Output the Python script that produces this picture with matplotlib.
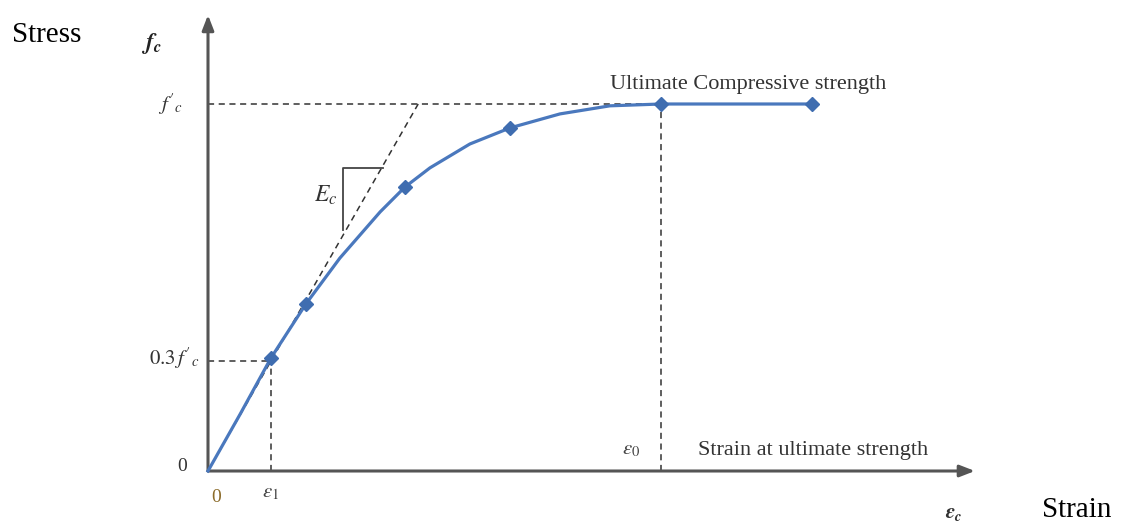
import matplotlib
matplotlib.use("Agg")
import matplotlib.pyplot as plt

plt.rcParams["font.family"] = ["Liberation Serif", "DejaVu Serif"]
plt.rcParams["mathtext.fontset"] = "stix"

# strain / stress (strain in eps0 units, stress in f'c units)
curve_strain = [0.0, 0.071, 0.139, 0.216, 0.291, 0.380, 0.435, 0.490, 0.578, 0.667,
                0.777, 0.887, 1.0, 1.333]
curve_stress = [0.0, 0.155, 0.308, 0.455, 0.580, 0.706, 0.774, 0.826, 0.891, 0.935,
                0.973, 0.995, 1.0, 1.0]
marker_idx = [2, 3, 6, 9, 12, 13]

eps1 = 0.139
eps0 = 1.0
tangent_strain = [0.0, 0.464]
tangent_stress = [0.0, 1.0]
# slope triangle for Ec
tri_x = [0.386, 0.298, 0.298]
tri_y = [0.826, 0.826, 0.657]

fig = plt.figure(figsize=(11.28, 5.22), dpi=100)
ax = fig.add_axes([0, 0, 1, 1])
ax.set_xlim(-208 / 453, 920 / 453)
ax.set_ylim(-51 / 367, 471 / 367)
ax.axis("off")

dash = dict(color="#333333", lw=1.1, ls=(0, (4, 3)))
ax.plot([0, curve_strain[-1]], [1.0, 1.0], **dash)
ax.plot([0, eps1], [0.3, 0.3], **dash)
ax.plot([eps1, eps1], [0, 0.3], **dash)
ax.plot([eps0, eps0], [0, 1.0], **dash)
ax.plot(tangent_strain, tangent_stress, **dash)
ax.plot(tri_x, tri_y, color="#444444", lw=1.3)

ax.plot(curve_strain, curve_stress, color="#4a78bd", lw=2.3, solid_joinstyle="round",
        marker="D", markevery=marker_idx, markersize=7.5, markerfacecolor="#3f6db0",
        markeredgecolor="#3f6db0", zorder=5)

# axes with arrows
arr = dict(arrowstyle="-|>,head_length=0.9,head_width=0.35", color="#555555", lw=2.2,
           shrinkA=0, shrinkB=0)
ax.annotate("", xy=(1.693, 0), xytext=(0, 0), arrowprops=arr)
ax.annotate("", xy=(0, 1.2425), xytext=(0, 0), arrowprops=arr)

# labels
ax.text(-0.124, 1.165, r"$\mathbfit{f_c}$", fontsize=17, ha="center", va="center", color="#222222")
ax.text(-0.083, 1.0, r"$f'_c$", fontsize=15, ha="center", va="center", color="#333333")
ax.text(-0.02, 0.308, r"$0.3\,f'_c$", fontsize=15, ha="right", va="center", color="#333333")
ax.text(-0.057, 0.013, "0", fontsize=14, ha="center", va="center", color="#333333")
ax.text(0.018, -0.072, "0", fontsize=14, ha="center", va="center", color="#8b6b2a")
ax.text(eps1, -0.06, r"$\varepsilon_1$", fontsize=15, ha="center", va="center", color="#444444")
ax.text(0.935, 0.057, r"$\varepsilon_0$", fontsize=15, ha="center", va="center", color="#444444")
ax.text(1.646, -0.115, r"$\mathbfit{\varepsilon_c}$", fontsize=15, ha="center", va="center",
        color="#333333")
ax.text(0.26, 0.752, r"$E_c$", fontsize=17, ha="center", va="center", color="#333333")
ax.text(1.192, 1.054, "Ultimate Compressive strength", fontsize=16, ha="center", va="center",
        color="#333333")
ax.text(1.336, 0.057, "Strain at ultimate strength", fontsize=16, ha="center", va="center",
        color="#333333")
fig.text(12 / 1128, 1 - 42 / 522, "Stress", fontsize=21, ha="left", va="baseline", color="black")
fig.text(1042 / 1128, 1 - 517 / 522, "Strain", fontsize=21, ha="left", va="baseline", color="black")

fig.savefig("out.png", dpi=100)
